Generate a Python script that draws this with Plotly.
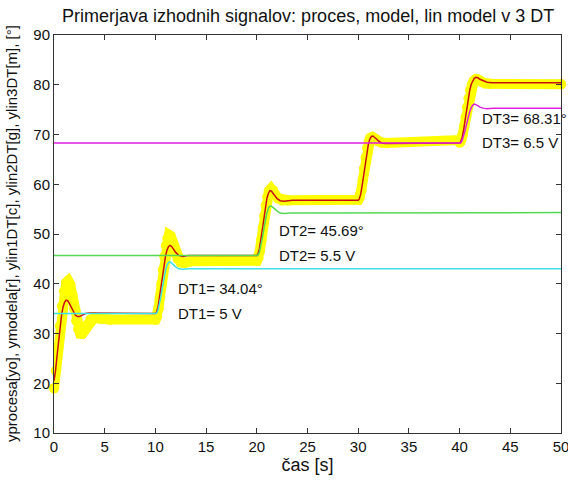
import plotly.graph_objects as go

# ---- data ----
proc_t = [0, 0.2, 0.4, 0.6, 0.8, 1.0, 1.2, 1.4, 1.6, 1.8, 2.0, 2.2, 2.4, 2.6, 2.8, 3.0, 3.3, 3.6, 4.0, 4.5, 5.5, 10.0,
          10.15, 10.3, 10.45, 10.6, 10.75, 10.9, 11.05, 11.2, 11.35, 11.5, 11.65, 11.8, 12.0, 12.2, 12.5, 12.9, 13.5, 20.0,
          20.15, 20.3, 20.45, 20.6, 20.75, 20.9, 21.05, 21.2, 21.4, 21.6, 21.8, 22.1, 22.5, 23.0, 30.0,
          30.15, 30.3, 30.45, 30.6, 30.75, 30.9, 31.05, 31.2, 31.4, 31.6, 31.9, 32.3, 32.8, 40.0,
          40.15, 40.3, 40.45, 40.6, 40.75, 40.9, 41.05, 41.2, 41.4, 41.6, 41.8, 42.1, 42.5, 43.0, 50.0]
proc_y = [19.0, 22.5, 27.0, 31.5, 35.5, 38.5, 40.2, 40.6, 39.8, 37.8, 35.0, 32.6, 30.9, 30.0, 30.0, 30.6, 31.8, 32.8, 33.2, 33.0, 32.8, 32.8,
          33.4, 35.0, 37.3, 40.0, 42.8, 45.5, 47.7, 49.1, 49.8, 49.6, 48.7, 47.5, 46.0, 45.0, 44.3, 44.2, 44.5, 44.6,
          45.2, 46.6, 48.8, 51.2, 53.6, 55.8, 57.5, 58.6, 59.1, 58.8, 58.0, 57.2, 56.8, 56.8, 56.9,
          57.4, 58.7, 60.8, 63.2, 65.4, 67.3, 68.6, 69.3, 69.5, 69.2, 68.7, 68.4, 68.3, 68.4,
          68.9, 70.0, 71.6, 73.5, 75.5, 77.3, 78.9, 80.0, 80.8, 81.1, 81.1, 80.7, 80.3, 80.2, 80.1]

model_t = [0, 0.15, 0.3, 0.45, 0.6, 0.75, 0.9, 1.05, 1.2, 1.35, 1.5, 1.7, 1.9, 2.1, 2.3, 2.5, 2.8, 3.1, 3.5, 4.0, 10.0,
           10.1, 10.25, 10.4, 10.55, 10.7, 10.85, 11.0, 11.15, 11.3, 11.45, 11.6, 11.8, 12.0, 12.3, 12.7, 13.2, 20.0,
           20.1, 20.25, 20.4, 20.55, 20.7, 20.85, 21.0, 21.15, 21.3, 21.45, 21.6, 21.8, 22.0, 22.3, 22.7, 23.5, 30.0,
           30.1, 30.25, 30.4, 30.55, 30.7, 30.85, 31.0, 31.15, 31.3, 31.45, 31.6, 31.8, 32.0, 32.3, 32.7, 33.2, 34.0, 40.0,
           40.1, 40.25, 40.4, 40.55, 40.7, 40.85, 41.0, 41.15, 41.3, 41.45, 41.6, 41.8, 42.0, 42.3, 42.7, 43.2, 50.0]
model_y = [20.5, 22.5, 25.5, 28.7, 31.5, 33.8, 35.4, 36.3, 36.7, 36.6, 36.1, 35.2, 34.3, 33.7, 33.4, 33.4, 33.7, 34.0, 34.1, 34.1, 34.04,
           34.2, 35.3, 37.2, 39.5, 41.8, 43.9, 45.6, 46.8, 47.5, 47.7, 47.5, 46.9, 46.3, 45.7, 45.5, 45.7, 45.69,
           45.9, 47.0, 48.9, 51.2, 53.5, 55.6, 57.2, 58.2, 58.7, 58.6, 58.2, 57.6, 57.1, 56.7, 56.6, 56.8, 56.8,
           57.0, 58.0, 59.9, 62.1, 64.4, 66.4, 68.0, 69.1, 69.6, 69.7, 69.5, 69.1, 68.7, 68.3, 68.2, 68.2, 68.31, 68.31,
           68.5, 69.4, 71.0, 73.0, 75.2, 77.2, 78.9, 80.1, 80.9, 81.3, 81.5, 81.4, 81.1, 80.8, 80.5, 80.4, 80.4]

lin1_t = [0, 10.1, 10.25, 10.4, 10.55, 10.7, 10.85, 11.0, 11.15, 11.3, 11.45, 11.6, 11.8, 12.0, 12.3, 12.7, 13.3, 50.0]
lin1_y = [34.04, 34.04, 34.6, 35.8, 37.5, 39.4, 41.2, 42.7, 43.8, 44.3, 44.4, 44.2, 43.8, 43.4, 43.0, 42.9, 43.0, 43.0]

lin2_t = [0, 20.1, 20.25, 20.4, 20.55, 20.7, 20.85, 21.0, 21.15, 21.3, 21.45, 21.6, 21.8, 22.0, 22.3, 22.7, 23.3, 50.0]
lin2_y = [45.69, 45.69, 46.3, 47.5, 49.2, 51.1, 52.9, 54.3, 55.2, 55.6, 55.6, 55.4, 55.0, 54.6, 54.2, 54.1, 54.2, 54.3]

lin3_t = [0, 40.1, 40.25, 40.4, 40.55, 40.7, 40.85, 41.0, 41.15, 41.3, 41.45, 41.6, 41.8, 42.0, 42.3, 42.7, 43.3, 50.0]
lin3_y = [68.31, 68.31, 68.8, 69.7, 70.9, 72.2, 73.5, 74.6, 75.4, 75.9, 76.1, 76.0, 75.8, 75.5, 75.3, 75.2, 75.3, 75.3]

dt_names = ["DT1", "DT2", "DT3"]
dt_angles = [34.04, 45.69, 68.31]
dt_volts = ["5", "5.5", "6.5"]
dt_text_t = [12, 22, 42]

title_text = "Primerjava izhodnih signalov: proces, model, lin model v 3 DT"
xlabel = "čas [s]"
ylabel = "yprocesa[yo], ymodela[r], ylin1DT[c], ylin2DT[g], ylin3DT[m], [°]"

FONT = "Liberation Sans, Arial, sans-serif"
TXT = "#111111"

fig = go.Figure()
fig.add_trace(go.Scatter(x=proc_t, y=proc_y, mode="lines+markers", line=dict(color="#ffff00", width=10),
                         marker=dict(symbol="circle", size=10.5, color="#ffff00", line=dict(width=0)),
                         cliponaxis=False))
fig.add_trace(go.Scatter(x=model_t, y=model_y, mode="lines", line=dict(color="#c81010", width=1.5)))
fig.add_trace(go.Scatter(x=lin1_t, y=lin1_y, mode="lines", line=dict(color="#40e0e8", width=1.5)))
fig.add_trace(go.Scatter(x=lin2_t, y=lin2_y, mode="lines", line=dict(color="#55d855", width=1.5)))
fig.add_trace(go.Scatter(x=lin3_t, y=lin3_y, mode="lines", line=dict(color="#e020e0", width=1.5)))

for name, ang, v, tt in zip(dt_names, dt_angles, dt_volts, dt_text_t):
    fig.add_annotation(x=tt, y=ang + 5, text=f"{name}= {ang:.2f}°", showarrow=False,
                       xanchor="left", yanchor="middle", font=dict(size=15, color=TXT, family=FONT))
    fig.add_annotation(x=tt, y=ang, text=f"{name}= {v} V", showarrow=False,
                       xanchor="left", yanchor="middle", font=dict(size=15, color=TXT, family=FONT))

fig.add_annotation(x=0.5, y=1, xref="paper", yref="paper", yshift=7, yanchor="bottom", xanchor="center",
                   text=title_text, showarrow=False, font=dict(size=18, color=TXT, family=FONT))
fig.add_annotation(x=0, y=0.5, xref="paper", yref="paper", xshift=-43, xanchor="center", yanchor="middle",
                   textangle=-90, text=ylabel, showarrow=False, font=dict(size=15, color=TXT, family=FONT))

axis_common = dict(showline=True, linecolor="#333", linewidth=1, mirror="ticks", ticks="inside",
                   ticklen=5, tickcolor="#333", showgrid=False, zeroline=False, automargin=False,
                   tickfont=dict(size=15, color=TXT, family=FONT))
fig.update_xaxes(range=[0, 50], dtick=5, tick0=0, ticklabeloverflow="allow",
                 title=dict(text=xlabel, font=dict(size=18, color=TXT, family=FONT), standoff=2), **axis_common)
fig.update_yaxes(range=[10, 90], dtick=10, tick0=10, **axis_common)

fig.update_layout(width=568, height=481, margin=dict(l=54, r=7, t=35, b=48),
                  plot_bgcolor="white", paper_bgcolor="white", showlegend=False)

fig.write_html("out.html", config={"displayModeBar": False},
               post_script="document.body.style.margin='0';document.body.style.overflow='hidden';")
